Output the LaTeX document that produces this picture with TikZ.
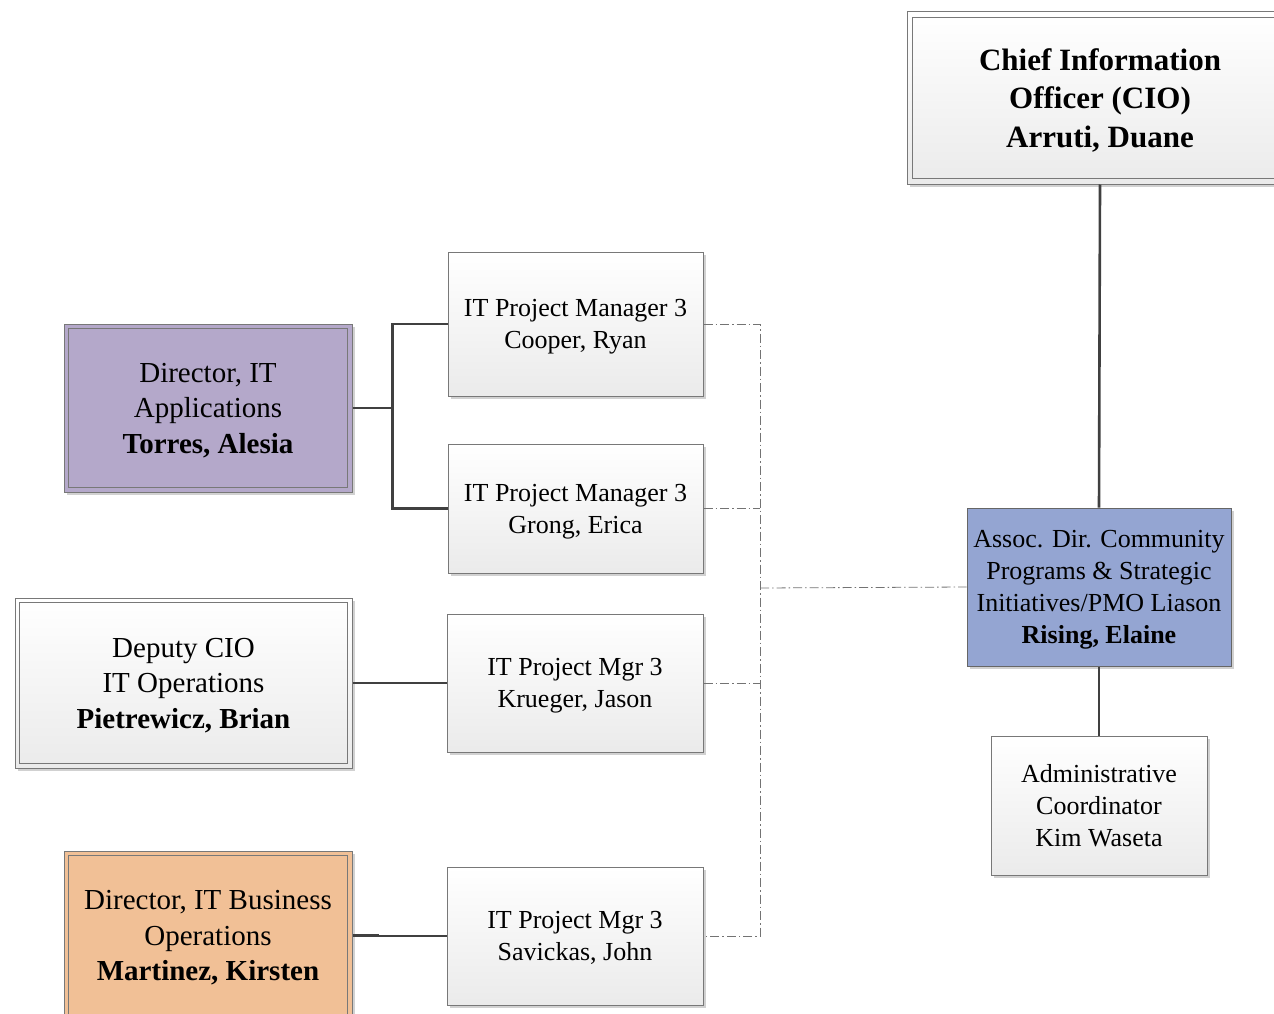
\documentclass[tikz,border=0pt]{standalone}
\usepackage{fontspec}
\setmainfont{Liberation Serif}
\usetikzlibrary{shadows,calc}

\definecolor{appsfill}{RGB}{180,168,202}
\definecolor{busfill}{RGB}{241,192,150}
\definecolor{assocfill}{RGB}{148,165,210}
\definecolor{boxline}{RGB}{120,120,120}
\definecolor{orgline}{RGB}{64,64,64}

\tikzset{
	boxshadow/.style={drop shadow={shadow xshift=2.5pt, shadow yshift=-2.5pt, opacity=0.18, fill=black}},
	plainbox/.style={draw=boxline, line width=1pt, top color=white, bottom color=black!8, boxshadow, align=center, inner sep=2pt, text depth=0pt, font=\fontsize{26}{32}\selectfont},
	dirbox/.style={draw=boxline, line width=1pt, boxshadow, align=center, inner sep=2pt, text depth=0pt, font=\fontsize{29}{35.5}\selectfont},
	innerframe/.style={draw=boxline, line width=1pt},
	reportline/.style={draw=orgline, line width=2.6pt},
	liaisonline/.style={draw=black!55, line width=0.8pt, dash pattern=on 9pt off 3pt on 1.5pt off 3pt}
}

\begin{document}
\begin{tikzpicture}[x=1pt, y=-1pt]
			%%%%% START %%%%%
			\useasboundingbox (0, 0) rectangle (1274, 1014);
			
			% top of the chart
			\node[dirbox, top color=white, bottom color=black!8, minimum width=386pt, minimum height=172pt, font=\fontsize{31}{38.5}\selectfont\bfseries] (cio) at (1100, 98) {Chief Information\\Officer (CIO)\\Arruti, Duane};
			\draw[innerframe] ($(cio.north west)+(6, 6)$) rectangle ($(cio.south east)+(-6, -6)$);
			
			\node[plainbox, draw=black!60, fill=assocfill, top color=assocfill, bottom color=assocfill, minimum width=264pt, minimum height=158pt] (assoc) at (1099, 587) {Assoc. Dir. Community\\Programs \& Strategic\\Initiatives/PMO Liason\\\textbf{Rising, Elaine}};
			
			\node[plainbox, minimum width=216pt, minimum height=139pt] (admin) at (1099, 805.5) {Administrative\\Coordinator\\Kim Waseta};
			
			% directors on the left
			\node[dirbox, fill=appsfill, minimum width=288pt, minimum height=168pt] (apps) at (208, 408) {Director, IT\\Applications\\\textbf{Torres, Alesia}};
			\draw[innerframe] ($(apps.north west)+(5, 5)$) rectangle ($(apps.south east)+(-5, -5)$);
			
			\node[dirbox, top color=white, bottom color=black!8, minimum width=337pt, minimum height=170pt] (deputy) at (183.5, 683) {Deputy CIO\\IT Operations\\\textbf{Pietrewicz, Brian}};
			\draw[innerframe] ($(deputy.north west)+(5, 5)$) rectangle ($(deputy.south east)+(-5, -5)$);
			
			\node[dirbox, fill=busfill, minimum width=288pt, minimum height=169pt] (busops) at (208, 935.5) {Director, IT Business\\Operations\\\textbf{Martinez, Kirsten}};
			\draw[innerframe] ($(busops.north west)+(5, 5)$) rectangle ($(busops.south east)+(-5, -5)$);
			
			% project managers
			\node[plainbox, minimum width=255pt, minimum height=144pt] (pmcooper) at (575.5, 324) {IT Project Manager 3\\Cooper, Ryan};
			\node[plainbox, minimum width=255pt, minimum height=129pt] (pmgrong) at (575.5, 508.5) {IT Project Manager 3\\Grong, Erica};
			\node[plainbox, minimum width=256pt, minimum height=138pt] (pmkrueger) at (575, 683) {IT Project Mgr 3\\Krueger, Jason};
			\node[plainbox, minimum width=256pt, minimum height=138pt] (pmsavickas) at (575, 936) {IT Project Mgr 3\\Savickas, John};
			
			% solid reporting lines
			\draw[reportline] (cio.south) -- (assoc.north);
			\draw[reportline] (assoc.south) -- (admin.north);
			\draw[reportline] (apps.east) -- ++(40, 0) coordinate (appsfork);
			\draw[reportline] (pmcooper.west) -| (appsfork) |- (pmgrong.west);
			\draw[reportline] (deputy.east) -- (pmkrueger.west);
			\draw[reportline] (busops.east) -- ++(25, 0) coordinate (busjog) -- (busjog |- pmsavickas.west) -- (pmsavickas.west);
			
			% dotted liaison lines
			\coordinate (trunk) at (760, 588);
			\draw[liaisonline] (pmcooper.east) -- (pmcooper.east -| trunk) -- (pmsavickas.east -| trunk) -- (pmsavickas.east);
			\draw[liaisonline] (pmgrong.east) -- (pmgrong.east -| trunk);
			\draw[liaisonline] (pmkrueger.east) -- (pmkrueger.east -| trunk);
			\draw[liaisonline] (trunk) -- (assoc.west);
			
			%%%%% END %%%%%
\end{tikzpicture}
\end{document}
